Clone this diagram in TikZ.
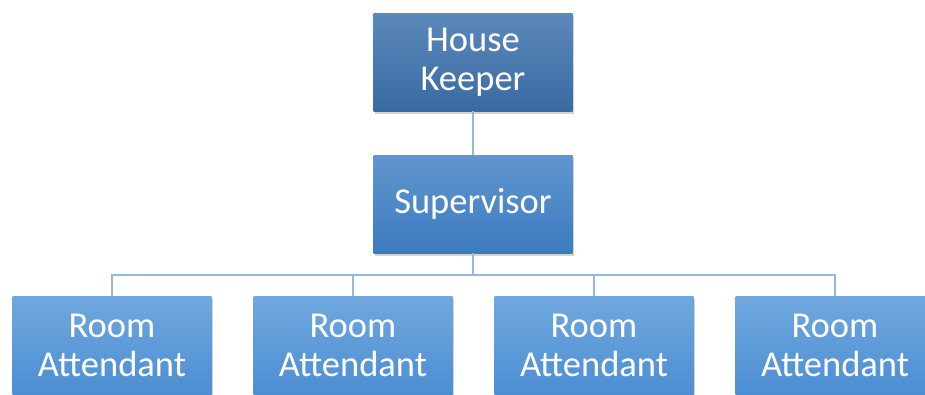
\documentclass[tikz,border=0pt]{standalone}
\usepackage{fontspec}
\setmainfont{Carlito}
\usetikzlibrary{shadows}
\definecolor{linkblue}{RGB}{149,184,227}

\begin{document}
\begin{tikzpicture}[x=1pt,y=-1pt,
    box/.style={minimum width=199pt,minimum height=98pt,inner sep=0pt,
        text=white,align=center,font=\fontsize{36.5}{39}\selectfont,
        drop shadow={opacity=0.35,shadow xshift=1.5pt,shadow yshift=-3pt}},
    head/.style={box,top color={rgb,255:red,92;green,137;blue,187},bottom color={rgb,255:red,56;green,106;blue,162}},
    mid/.style={box,top color={rgb,255:red,96;green,150;blue,207},bottom color={rgb,255:red,60;green,123;blue,191}},
    leaf/.style={box,top color={rgb,255:red,112;green,168;blue,222},bottom color={rgb,255:red,76;green,142;blue,211}},
    link/.style={draw=linkblue,line width=1.2pt}]
    \useasboundingbox (0,0) rectangle (925,394);
    \clip (0,0) rectangle (925,394);
    % \fill[white] (0,0) rectangle (925,394);
    \coordinate (bus) at (473,275);
    \node[head] (keeper) at (473,62) {House\\Keeper};
    \node[mid] (super) at (473,204) {Supervisor};
    \draw[link] (keeper) -- (super);
    \draw[link] (super) -- (bus);
    \foreach \i in {0,1,2,3}{
        \draw[link] (bus) -| (112+241*\i,297);
        \node[leaf] (room\i) at (112+241*\i,345) {Room\\Attendant};
    };

\end{tikzpicture}
\end{document}
